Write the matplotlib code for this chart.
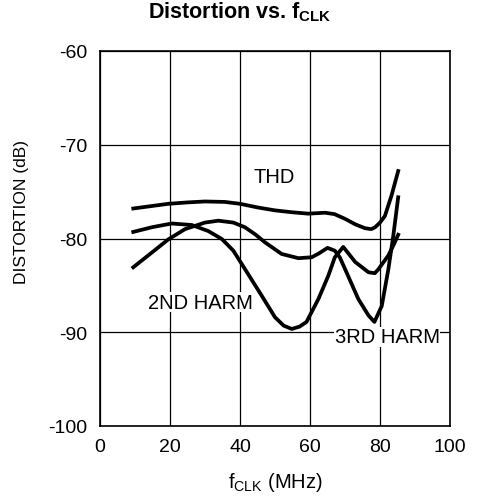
import matplotlib
matplotlib.use("Agg")
import matplotlib.pyplot as plt

plt.rcParams["font.family"] = ["Liberation Sans", "DejaVu Sans"]
plt.rcParams["axes.unicode_minus"] = False
plt.rcParams["mathtext.fontset"] = "custom"
plt.rcParams["mathtext.rm"] = "Liberation Sans"
plt.rcParams["mathtext.bf"] = "Liberation Sans:bold"

# ---- data ----
thd_f = [9.5, 14.5, 19.5, 25, 30, 35.7, 40, 45.2, 50, 54.8, 59.5, 64.3, 67,
         70, 73, 75.7, 77.5, 78.6, 80, 81.4, 83.3, 85.2]
thd_db = [-76.8, -76.55, -76.3, -76.15, -76.05, -76.1, -76.3, -76.7, -77.0,
          -77.2, -77.35, -77.25, -77.4, -77.9, -78.5, -78.9, -79.0, -78.8,
          -78.3, -77.6, -75.4, -72.8]

h2_f = [9.5, 14.8, 20.5, 26.2, 30.9, 34.8, 38.1, 41.4, 46.2, 50, 52.5, 54.8,
        57, 59, 62.4, 65.2, 67.1, 69.5, 72.9, 76.7, 78.5, 79.5, 82.4, 84,
        85.2]
h2_db = [-79.3, -78.8, -78.4, -78.56, -79.2, -80.05, -81.3, -83.25, -86.1,
         -88.4, -89.3, -89.65, -89.4, -88.9, -86.45, -84.0, -82.0, -80.9,
         -82.5, -83.6, -83.7, -83.3, -81.8, -80.6, -79.6]

h3_f = [9.5, 14.8, 19.5, 24.3, 30, 33.8, 38.1, 41.4, 44.5, 47.1, 51.9, 56.7,
        60.5, 62.5, 65, 67.1, 68.5, 70, 73.8, 76.7, 78.4, 80.5, 82.4, 83.8,
        85.2]
h3_db = [-83.07, -81.5, -80.1, -79.0, -78.3, -78.1, -78.3, -78.8, -79.6,
         -80.4, -81.65, -82.1, -82.0, -81.6, -81.0, -81.3, -82.0, -83.25,
         -86.45, -88.2, -88.9, -87.2, -83.25, -79.7, -75.6]

x_ticks = [0, 20, 40, 60, 80, 100]
y_ticks = [-100, -90, -80, -70, -60]

fig = plt.figure(figsize=(4.8, 5.02), dpi=100)
ax = fig.add_axes([100/480, 1 - 427/502, 350/480, 375/502])

for f, d in [(thd_f, thd_db), (h2_f, h2_db), (h3_f, h3_db)]:
    ax.plot(f, d, color="black", lw=2.7, solid_joinstyle="round", zorder=3)

ax.set_xlim(0, 100)
ax.set_ylim(-100, -60)
ax.set_xticks(x_ticks)
ax.set_yticks(y_ticks)
ax.tick_params(length=0, labelsize=14)
ax.tick_params(axis="x", pad=9)
ax.tick_params(axis="y", pad=9)
ax.grid(True, color="black", lw=0.9)
for s in ax.spines.values():
    s.set_linewidth(1.2)

box = dict(fc="white", ec="none", pad=0.5)
ax.text(49.9, -73.4, "THD", ha="center", va="center", fontsize=14.5, zorder=4)
ax.text(28.6, -86.8, "2ND HARM", ha="center", va="center", fontsize=14.5,
        bbox=box, zorder=4)
ax.text(82.1, -90.5, "3RD HARM", ha="center", va="center", fontsize=14.5,
        bbox=box, zorder=4)

fig.text(0.5, 1 - 18/502, r"Distortion vs. f$_{\mathbf{CLK}}$", ha="center",
         va="baseline", fontsize=15.5, fontweight="bold")
fig.text(275/480, 1 - 488/502, r"f$_{\mathrm{CLK}}$ (MHz)", ha="center",
         va="baseline", fontsize=14.5)
fig.text(22/480, 1 - 212/502, "DISTORTION (dB)", ha="center", va="center",
         rotation=90, fontsize=12.5)

fig.savefig("out.png", dpi=100)
